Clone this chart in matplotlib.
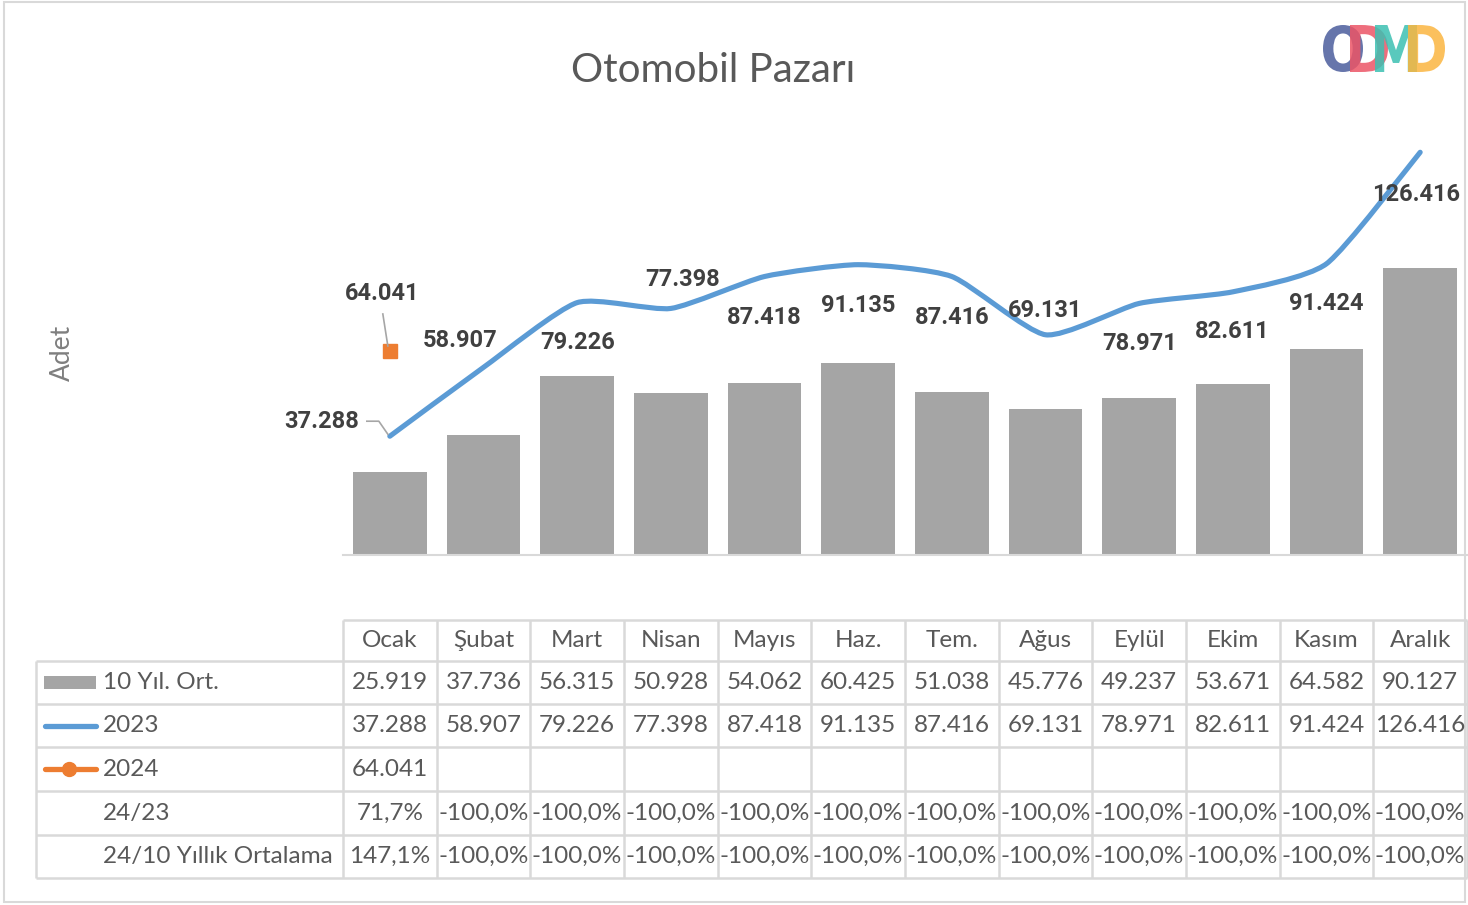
import numpy as np
import matplotlib
matplotlib.use('Agg')
import matplotlib.pyplot as plt
import matplotlib.transforms as mtransforms
from matplotlib.path import Path
from matplotlib.patches import PathPatch, Rectangle
from matplotlib.textpath import TextPath
from matplotlib.font_manager import FontProperties

months = ['Ocak', 'Şubat', 'Mart', 'Nisan', 'Mayıs', 'Haz.', 'Tem.',
          'Ağus', 'Eylül', 'Ekim', 'Kasım', 'Aralık']
avg_10y = [25919, 37736, 56315, 50928, 54062, 60425, 51038, 45776, 49237, 53671, 64582, 90127]
sales_2023 = [37288, 58907, 79226, 77398, 87418, 91135, 87416, 69131, 78971, 82611, 91424, 126416]
sales_2024 = [64041]
pct_24_23 = [71.7] + [-100.0] * 11
pct_24_10y = [147.1] + [-100.0] * 11

GRAY = '#a5a5a5'
BLUE = '#5b9bd5'
ORANGE = '#ed7d31'
GRID = '#d9d9d9'
TXT = '#595959'
LBL = '#404040'


def fmt_num(v):
    return f"{v:,}".replace(',', '.')


def fmt_pct(v):
    return f"{v:.1f}%".replace('.', ',')


def smooth_path(xs, ys, k=0.1):
    # excel-like smoothed line (cardinal spline as bezier segments)
    pts = np.column_stack([xs, ys]).astype(float)
    n = len(pts)
    verts = [pts[0]]
    codes = [Path.MOVETO]
    for i in range(n - 1):
        p0 = pts[max(i - 1, 0)]
        p1 = pts[i]
        p2 = pts[i + 1]
        p3 = pts[min(i + 2, n - 1)]
        verts += [p1 + (p2 - p0) * k, p2 - (p3 - p1) * k, p2]
        codes += [Path.CURVE4] * 3
    return Path(verts, codes)


W, H = 1468, 905
fig = plt.figure(figsize=(W / 100, H / 100), dpi=100)

# overlay in pixel coordinates for table, title, logo
ov = fig.add_axes([0, 0, 1, 1], zorder=0)
ov.set_xlim(0, W)
ov.set_ylim(H, 0)
ov.axis('off')

# chart area
x0_px, x1_px = 343, 1467
base_px, top_px = 555, 109
ax = fig.add_axes([x0_px / W, 1 - base_px / H, (x1_px - x0_px) / W, (base_px - top_px) / H], zorder=1)
ax.patch.set_alpha(0)
ax.set_xlim(-0.5, 11.5)
ax.set_ylim(0, 140000)
ax.axis('off')

x = np.arange(len(months))
ax.bar(x, avg_10y, width=0.79, color=GRAY, zorder=2)
ax.axhline(0, color=GRID, lw=1.5, zorder=3, clip_on=False)

line = PathPatch(smooth_path(x, sales_2023), fill=False, edgecolor=BLUE, lw=3.7,
                 capstyle='round', joinstyle='round', zorder=4)
ax.add_patch(line)
ax.plot(x[:len(sales_2024)], sales_2024, marker='s', markersize=9.5, color=ORANGE,
        linestyle='none', zorder=5)

# data labels (pixel offsets from points)
offs_2023 = [(-68, 15), (-23, 27), (0, -40), (12, 29), (0, -41), (0, -41),
             (0, -41), (0, 24), (0, -40), (-1, -40), (0, -40), (-4, -42)]
for i, v in enumerate(sales_2023):
    ax.annotate(fmt_num(v), xy=(i, v), xytext=offs_2023[i], textcoords='offset pixels',
                ha='center', va='center', fontsize=17, fontweight='bold', color=LBL,
                family='Roboto', zorder=6, annotation_clip=False)
ax.annotate(fmt_num(sales_2024[0]), xy=(0, sales_2024[0]), xytext=(-8, 57),
            textcoords='offset pixels', ha='center', va='center', fontsize=17,
            fontweight='bold', color=LBL, family='Roboto', zorder=6)

# leader lines
t1 = mtransforms.Affine2D() + mtransforms.ScaledTranslation(0, sales_2023[0], ax.transData)
ax.plot([-23, -11, -2], [15, 15, 2], color='#a6a6a6', lw=1.2, transform=t1, zorder=6)
t2 = mtransforms.Affine2D() + mtransforms.ScaledTranslation(0, sales_2024[0], ax.transData)
ax.plot([-7, -2], [37, 5], color='#a6a6a6', lw=1.2, transform=t2, zorder=6)

# title and axis label
ov.text(713, 70, 'Otomobil Pazarı', ha='center', va='center', fontsize=29,
        color=TXT, family='Lato')
ov.text(62, 353, 'Adet', rotation=90, ha='center', va='center', fontsize=19,
        color='#7f7f7f', family='Lato')

# logo
fp = FontProperties(family='DejaVu Sans', weight='bold')
for ch, lx, lw_, col in [('O', 1323, 40, '#4b5d9c'), ('D', 1350, 38, '#ec5566'),
                         ('M', 1375, 42, '#3cc0b2'), ('D', 1408, 37, '#fbb540')]:
    tp = TextPath((0, 0), ch, size=1, prop=fp)
    ext = tp.get_extents()
    tr = (mtransforms.Affine2D().translate(-ext.x0, -ext.y0)
          .scale(lw_ / ext.width, -47 / ext.height).translate(lx, 72))
    ov.add_patch(PathPatch(tp, transform=tr + ov.transData, facecolor=col,
                           edgecolor='none', alpha=0.85))

# data table
col_w = (x1_px - x0_px) / 12
rows_y = [620, 661, 704, 747, 791, 835, 878]
tl = dict(color=GRID, lw=1.8, solid_capstyle='butt')
ov.plot([x0_px, x1_px], [rows_y[0]] * 2, **tl)
for yy in rows_y[1:]:
    ov.plot([36, x1_px], [yy, yy], **tl)
ov.plot([36, 36], [rows_y[1], rows_y[-1]], **tl)
for k in range(13):
    xx = x0_px + k * col_w
    ov.plot([xx, xx], [rows_y[0], rows_y[-1]], **tl)

tfont = dict(fontsize=17.5, color=TXT, family='Lato', va='center')
row_c = [(rows_y[i] + rows_y[i + 1]) / 2 for i in range(6)]
for j, m in enumerate(months):
    cx = x0_px + (j + 0.5) * col_w
    ov.text(cx, row_c[0], m, ha='center', **tfont)
    ov.text(cx, row_c[1], fmt_num(avg_10y[j]), ha='center', **tfont)
    ov.text(cx, row_c[2], fmt_num(sales_2023[j]), ha='center', **tfont)
    if j < len(sales_2024):
        ov.text(cx, row_c[3], fmt_num(sales_2024[j]), ha='center', **tfont)
    ov.text(cx, row_c[4], fmt_pct(pct_24_23[j]), ha='center', **tfont)
    ov.text(cx, row_c[5], fmt_pct(pct_24_10y[j]), ha='center', **tfont)

row_names = ['10 Yıl. Ort.', '2023', '2024', '24/23', '24/10 Yıllık Ortalama']
for i, name in enumerate(row_names):
    ov.text(103, row_c[i + 1], name, ha='left', **tfont)

# legend keys
ov.add_patch(Rectangle((44, row_c[1] - 6.5), 52, 13, facecolor=GRAY, edgecolor='none'))
ov.plot([45, 96], [row_c[2]] * 2, color=BLUE, lw=3.8, solid_capstyle='round')
ov.plot([45, 96], [row_c[3]] * 2, color=ORANGE, lw=3.8, solid_capstyle='round')
ov.plot([69], [row_c[3]], marker='o', markersize=10, color=ORANGE)

# outer border
ov.add_patch(Rectangle((4, 2), 1461, 900, fill=False, edgecolor=GRID, lw=1.5))

fig.savefig('out.png', dpi=100)
